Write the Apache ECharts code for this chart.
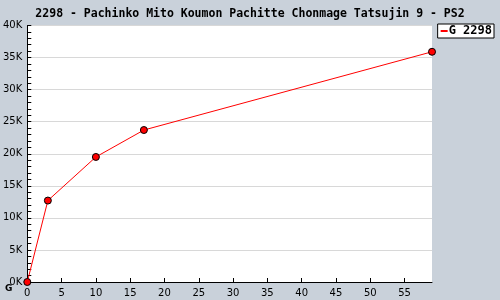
<!DOCTYPE html>
<html><head><meta charset="utf-8">
<script src="https://cdn.jsdelivr.net/npm/echarts@6/dist/echarts.min.js"></script>
<style>html,body{margin:0;padding:0;background:#c9d1da}#c{width:500px;height:300px}</style>
</head><body><div id="c"></div>
<script>
var titleText = '2298 - Pachinko Mito Koumon Pachitte Chonmage Tatsujin 9 - PS2';
var seriesName = 'G 2298';
var weeks = [0, 3, 10, 17, 59];
var sales = [0, 12700, 19500, 23700, 35900];

var chart = echarts.init(document.getElementById('c'));
var pts = weeks.map(function(w, i){ return [w, sales[i]]; });
chart.setOption({
  backgroundColor: '#c9d1da',
  animation: false,
  title: {
    text: titleText, left: 'center', top: 3,
    textStyle: {fontFamily: 'DejaVu Sans Mono', fontWeight: 'bold', fontSize: 11.5, color: '#000'}
  },
  legend: {
    right: 6, top: 24, padding: [1, 2, 1, 3], itemGap: 0,
    backgroundColor: '#fff', borderColor: '#000', borderWidth: 1, borderRadius: 0,
    itemWidth: 7, itemHeight: 2,
    icon: 'rect',
    textStyle: {fontFamily: 'DejaVu Sans Mono', fontWeight: 'bold', fontSize: 12, color: '#000', padding: [0,0,0,-4]},
    data: [{name: seriesName, itemStyle: {color: '#ff0000', borderWidth: 0}}]
  },
  grid: {left: 27, right: 68, top: 25.5, bottom: 18, show: true, backgroundColor: '#fff', borderWidth: 0},
  xAxis: {
    type: 'value', min: 0, max: 59, interval: 5,
    axisLine: {lineStyle: {color: '#000', width: 1}},
    axisTick: {inside: true, length: 4, lineStyle: {color: '#000'}},
    axisLabel: {color: '#000', fontFamily: 'DejaVu Sans', fontSize: 10, margin: 6, showMaxLabel: false},
    splitLine: {show: false}
  },
  yAxis: {
    type: 'value', min: 0, max: 40000, interval: 5000,
    axisLine: {show: true, lineStyle: {color: '#000', width: 1}},
    axisTick: {show: true, inside: true, length: 4, lineStyle: {color: '#000'}},
    minorTick: {show: true, splitNumber: 5, length: 4, lineStyle: {color: '#000'}},
    axisLabel: {color: '#000', fontFamily: 'DejaVu Sans', fontSize: 10, margin: 5,
      formatter: function(v){ return (v/1000) + 'K'; }},
    splitLine: {show: true, lineStyle: {color: '#d8d8d8', width: 1}}
  },
  series: [{
    name: seriesName, type: 'line', data: pts,
    symbol: 'circle', symbolSize: 7,
    lineStyle: {color: '#ff0000', width: 1},
    itemStyle: {color: '#ff0000', borderColor: '#000', borderWidth: 1}
  }],
  graphic: [{type: 'text', left: 5, top: 284, style: {text: 'G', fontFamily: 'DejaVu Sans', fontWeight: 'bold', fontSize: 9, fill: '#000'}}]
});
</script></body></html>
